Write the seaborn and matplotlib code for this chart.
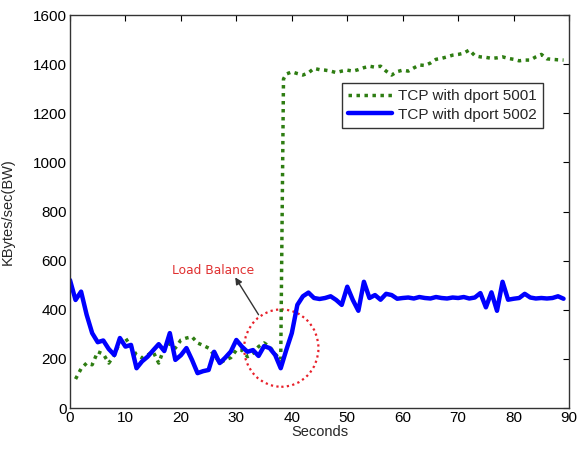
import numpy as np
import pandas as pd
import matplotlib
matplotlib.use("Agg")
import matplotlib.pyplot as plt
import seaborn as sns
from matplotlib.patches import Ellipse

# TCP flow with dport 5002 (solid blue), one sample per second
seconds_5002 = list(range(0, 90))
bw_5002 = [521, 440, 474, 380, 305, 268, 275, 240, 216, 285,
           250, 257, 162, 190, 209, 235, 260, 232, 305, 196,
           215, 244, 196, 142, 150, 155, 229, 183, 205, 230,
           277, 250, 229, 236, 212, 252, 244, 216, 162, 236,
           305, 420, 455, 470, 448, 444, 448, 455, 440, 420,
           494, 440, 396, 514, 448, 460, 441, 465, 460, 445,
           448, 450, 446, 452, 448, 446, 452, 448, 446, 450,
           448, 452, 446, 450, 468, 410, 471, 396, 514, 441,
           445, 448, 465, 450, 446, 448, 446, 448, 455, 445]

# TCP flow with dport 5001 (dotted green), jumps just after 38 s
seconds_5001 = list(range(1, 39)) + [38.5] + list(range(39, 90))
bw_5001 = [118, 160, 183, 176, 229, 220, 183, 216, 270, 285,
           250, 216, 204, 216, 229, 183, 244, 263, 244, 277,
           285, 290, 265, 255, 244, 216, 183, 196, 205, 236,
           236, 209, 223, 250, 265, 250, 220, 196,
           1340,
           1360, 1369, 1362, 1356, 1365, 1383, 1378, 1376, 1372, 1366,
           1372, 1376, 1372, 1378, 1386, 1392, 1388, 1392, 1372, 1356,
           1370, 1376, 1372, 1385, 1397, 1395, 1405, 1420, 1424, 1430,
           1437, 1440, 1445, 1458, 1435, 1430, 1428, 1424, 1426, 1430,
           1424, 1420, 1414, 1417, 1417, 1430, 1440, 1422, 1420, 1418,
           1417]

x_ticks = list(range(0, 91, 10))
y_ticks = list(range(0, 1601, 200))

df_5001 = pd.DataFrame({"Seconds": seconds_5001, "BW": bw_5001})
df_5002 = pd.DataFrame({"Seconds": seconds_5002, "BW": bw_5002})

sns.set_style("white")
plt.rcParams["font.family"] = ["Liberation Sans", "DejaVu Sans"]

fig = plt.figure(figsize=(5.77, 4.49), dpi=100)
ax = fig.add_axes([0.1213, 0.0913, 0.865, 0.875])

sns.lineplot(data=df_5001, x="Seconds", y="BW", ax=ax, color="#2e7d12",
             linestyle=(0, (1, 1.3)), linewidth=2.5, sort=False,
             label="TCP with dport 5001")
sns.lineplot(data=df_5002, x="Seconds", y="BW", ax=ax, color="#0000ff",
             linewidth=3.2, sort=False, label="TCP with dport 5002")

# load balance marker
ax.add_patch(Ellipse((38.1, 244), 13.4, 315, fill=False, edgecolor="#e8202a",
                     linestyle=(0, (1, 1.5)), linewidth=1.6))
ax.annotate("", xy=(29.8, 532), xytext=(34, 380),
            arrowprops=dict(arrowstyle="-|>", color="#333333", lw=1,
                            mutation_scale=10, shrinkA=0, shrinkB=0))
ax.text(25.8, 562, "Load Balance", color="#e03030", fontsize=8.8,
        family="DejaVu Sans", ha="center", va="center")

ax.set_xlim(0, 90)
ax.set_ylim(0, 1600)
ax.set_xticks(x_ticks)
ax.set_yticks(y_ticks)
ax.tick_params(direction="in", length=4, top=True, right=True,
               labelsize=11, pad=2, colors="black")
ax.set_xlabel("Seconds", fontsize=10.5, labelpad=0)
ax.set_ylabel("KBytes/sec(BW)", fontsize=10.5)
ax.yaxis.set_label_coords(-0.11, 0.5)
for s in ax.spines.values():
    s.set_color("#333333")
    s.set_linewidth(1)

leg = ax.legend(loc="upper right", bbox_to_anchor=(0.948, 0.827),
                fontsize=11, frameon=True, fancybox=False,
                handlelength=2.9, borderpad=0.4, labelspacing=0.3,
                handletextpad=0.4, borderaxespad=0)
leg.get_frame().set_edgecolor("black")
leg.get_frame().set_linewidth(1)

fig.savefig("out.png", dpi=100)
